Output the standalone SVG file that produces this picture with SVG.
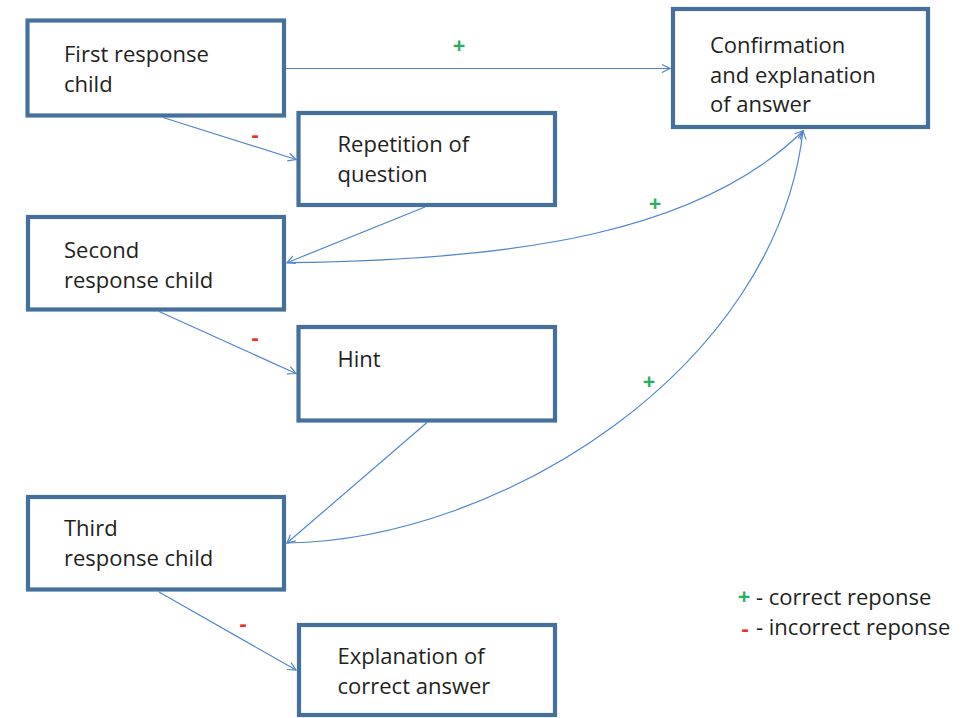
<svg xmlns="http://www.w3.org/2000/svg" width="978" height="718" viewBox="0 0 978 718">
<defs>
<style>
.box{fill:#ffffff;stroke:#46709c;stroke-width:4.2}
.t{font-family:"Open Sans","Liberation Sans",sans-serif;font-size:22px;fill:#231f20}
.c{fill:none;stroke:#4f86cc;stroke-width:1.2}
.plus{font-family:"Open Sans","Liberation Sans",sans-serif;font-size:22px;font-weight:bold;fill:#27b060;text-anchor:middle}
.minus{font-family:"Open Sans","Liberation Sans",sans-serif;font-size:22px;font-weight:bold;fill:#ee2e24;text-anchor:middle}
</style>
<marker id="arr" markerUnits="userSpaceOnUse" markerWidth="12" markerHeight="12" refX="9" refY="5" orient="auto">
<path d="M1,1 L9,5 L1,9" fill="none" stroke="#4f86cc" stroke-width="1.2"/>
</marker>
</defs>
<rect width="978" height="718" fill="#ffffff"/>
<g id="connectors">
<path class="c" d="M286,68.5 L670,68.5" marker-end="url(#arr)"/>
<path class="c" d="M163,117.5 L296,159.5" marker-end="url(#arr)"/>
<path class="c" d="M425,207 L287,262.7" marker-end="url(#arr)"/>
<path class="c" d="M287,262.7 C520,260 700,232 803,131" marker-end="url(#arr)"/>
<path class="c" d="M159,311.5 L296,373.5" marker-end="url(#arr)"/>
<path class="c" d="M427,422.5 L287,543" marker-end="url(#arr)"/>
<path class="c" d="M287,543 C500,540 775,370 803,131" marker-end="url(#arr)"/>
<path class="c" d="M159,592 L296,670" marker-end="url(#arr)"/>
<text class="plus" x="459" y="53">+</text>
<text class="plus" x="655" y="211">+</text>
<text class="plus" x="649" y="389">+</text>
<text class="minus" x="255" y="142">-</text>
<text class="minus" x="255" y="345">-</text>
<text class="minus" x="243" y="631">-</text>
</g>
<g id="first">
<rect class="box" x="27.5" y="20.5" width="256.5" height="95"/>
<text class="t" x="64" y="61.5">First response</text>
<text class="t" x="64" y="91.5">child</text>
</g>
<g id="repetition">
<rect class="box" x="298.5" y="113" width="256.5" height="92"/>
<text class="t" x="337.5" y="151.5">Repetition of</text>
<text class="t" x="337.5" y="181.5">question</text>
</g>
<g id="confirmation">
<rect class="box" x="673" y="9" width="255" height="118"/>
<text class="t" x="710" y="53">Confirmation</text>
<text class="t" x="710" y="83">and explanation</text>
<text class="t" x="710" y="112">of answer</text>
</g>
<g id="second">
<rect class="box" x="28" y="217" width="256" height="92.5"/>
<text class="t" x="64" y="257.5">Second</text>
<text class="t" x="64" y="288">response child</text>
</g>
<g id="hint">
<rect class="box" x="298.5" y="327" width="256.5" height="93.5"/>
<text class="t" x="337.5" y="366.5">Hint</text>
</g>
<g id="third">
<rect class="box" x="28" y="497" width="256" height="92.5"/>
<text class="t" x="64" y="535.5">Third</text>
<text class="t" x="64" y="566">response child</text>
</g>
<g id="explanation">
<rect class="box" x="299" y="625" width="256" height="90"/>
<text class="t" x="337.5" y="664">Explanation of</text>
<text class="t" x="337.5" y="694">correct answer</text>
</g>
<g id="legend">
<text class="plus" x="744" y="604">+</text>
<text class="t" x="756" y="605">- correct reponse</text>
<text class="minus" x="745" y="636">-</text>
<text class="t" x="756" y="635">- incorrect reponse</text>
</g>
</svg>
